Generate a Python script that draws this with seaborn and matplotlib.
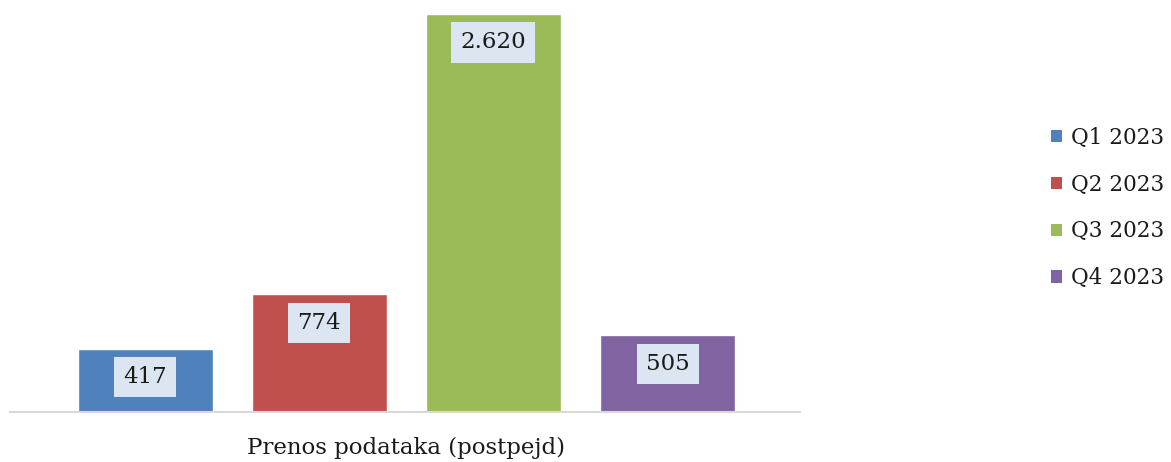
import pandas as pd
import seaborn as sns
from matplotlib import pyplot as plt

# podaci
category = ["Prenos podataka (postpejd)"]
quarters = ["Q1 2023", "Q2 2023", "Q3 2023", "Q4 2023"]
values = [417, 774, 2620, 505]
colors = ["#4F81BD", "#C0504D", "#9BBB59", "#8064A2"]

df = pd.DataFrame({"kategorija": category * len(quarters),
                   "kvartal": quarters,
                   "vrednost": values})

sns.set_style("white")
plt.rcParams["font.family"] = ["DejaVu Serif"]

fig = plt.figure(figsize=(11.71, 4.62), dpi=100)
ax = fig.add_axes([10 / 1171, 50 / 462, 790 / 1171, 398 / 462])

sns.barplot(data=df, x="kategorija", y="vrednost", hue="kvartal",
            palette=colors, width=0.8, gap=0.225, saturation=1,
            legend=False, ax=ax)

ax.set_xlim(-0.455, 0.452)
ax.set_ylim(0, 2620)

# oznake vrednosti u kutijama
for cont, v in zip(ax.containers, values):
    for p in cont.patches:
        ax.annotate(f"{v:,}".replace(",", "."),
                    (p.get_x() + p.get_width() / 2, p.get_height()),
                    xytext=(0, -20.5), textcoords="offset points",
                    ha="center", va="center", fontsize=16.5, color="#1a1a1a",
                    bbox=dict(boxstyle="square,pad=0.4", fc="#DCE6F2",
                              ec="none"))

for s in ["top", "right", "left"]:
    ax.spines[s].set_visible(False)
ax.spines["bottom"].set_color("#D9D9D9")
ax.spines["bottom"].set_linewidth(1.5)
ax.set_yticks([])
ax.set_xlabel("")
ax.set_ylabel("")
ax.tick_params(axis="x", length=0, labelsize=16.5, pad=18, colors="#1a1a1a")

handles = [plt.Rectangle((0, 0), 1, 1, fc=c, ec="none") for c in colors]
fig.legend(handles, quarters, loc="center left",
           bbox_to_anchor=(1051 / 1171, 1 - 208 / 462), frameon=False,
           borderpad=0, borderaxespad=0,
           fontsize=15.5, handlelength=0.5, handleheight=0.5,
           handletextpad=0.45, labelspacing=1.15, labelcolor="#1a1a1a")

fig.savefig("out.png", dpi=100)
